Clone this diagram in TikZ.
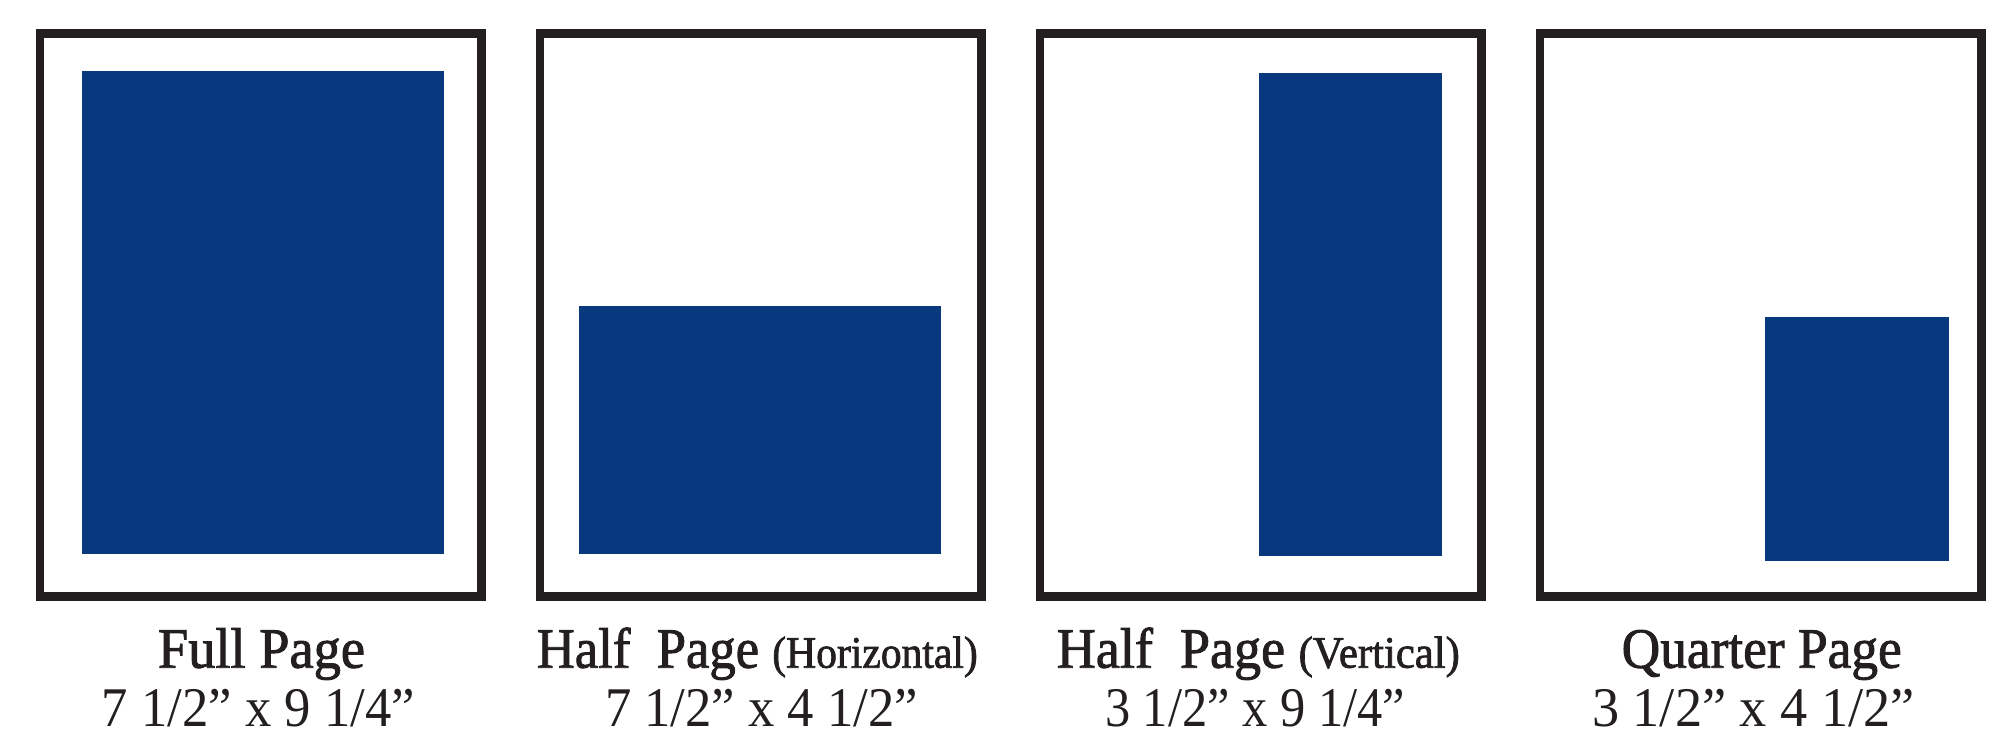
\documentclass[tikz,border=0pt]{standalone}
\usepackage{fontspec}
\usepackage{graphicx}
\setmainfont{Liberation Serif}
\newfontfamily\titlefont[FakeBold=1.6]{Liberation Serif}
\definecolor{framek}{RGB}{35,31,32}
\definecolor{adblue}{RGB}{8,57,126}
\tikzset{
  pageframe/.style={draw=framek, line width=8.7pt},
  adarea/.style={fill=adblue},
  titletext/.style={anchor=base, inner sep=0pt, text=framek, font=\titlefont\fontsize{57}{60}\selectfont},
  sizetext/.style={anchor=base, inner sep=0pt, text=framek, font=\fontsize{56}{60}\selectfont}
}
\newcommand{\subtag}[1]{{\fontsize{45}{50}\selectfont #1}}
\begin{document}
\begin{tikzpicture}[x=1pt,y=-1pt]
\useasboundingbox (0,0) rectangle (2016,732);
% frames
\foreach \i in {0,1,2,3}{
  \draw[pageframe] (40+500*\i,33.7) rectangle (481.6+500*\i,596.6);
}
% ad areas
\fill[adarea] (82.3,71) rectangle (443.7,554.3);
\fill[adarea] (579.3,306) rectangle (940.7,554.3);
\fill[adarea] (1259.3,73) rectangle (1442.3,556);
\fill[adarea] (1765.3,317) rectangle (1948.7,560.7);
% titles
\node[titletext] (t1) at (261.5,667.7) {\resizebox{207pt}{\height}{Full Page}};
\node[titletext] (t2) at (757.3,667.7) {\resizebox{441pt}{\height}{Half\ \ Page \subtag{(Horizontal)}}};
\node[titletext] (t3) at (1258.3,667.7) {\resizebox{403pt}{\height}{Half\ \ Page \subtag{(Vertical)}}};
\node[titletext] (t4) at (1761.7,667.7) {\resizebox{280pt}{\height}{Quarter Page}};
% sizes
\node[sizetext] (s1) at (258.5,726.5) {\resizebox{313pt}{\height}{7 1/2” x 9 1/4”}};
\node[sizetext] (s2) at (761.5,726.5) {\resizebox{313pt}{\height}{7 1/2” x 4 1/2”}};
\node[sizetext] (s3) at (1255,726.5) {\resizebox{300pt}{\height}{3 1/2” x 9 1/4”}};
\node[sizetext] (s4) at (1753.5,726.5) {\resizebox{323pt}{\height}{3 1/2” x 4 1/2”}};
\end{tikzpicture}
\end{document}
